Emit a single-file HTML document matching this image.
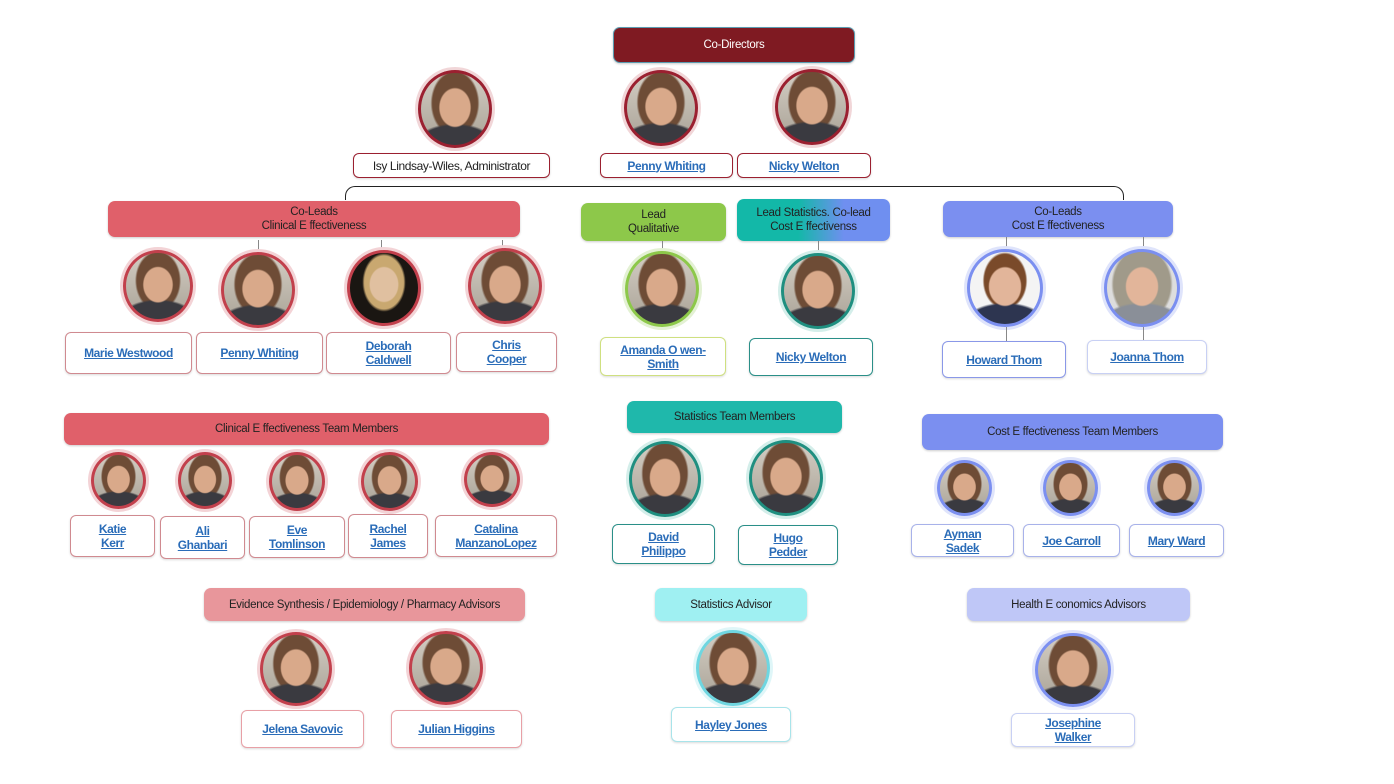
<!DOCTYPE html>
<html><head><meta charset="utf-8"><style>
body{margin:0;width:1394px;height:784px;background:#fff;position:relative;overflow:hidden;font-family:"Liberation Sans",sans-serif;}
div{position:absolute;box-sizing:border-box;}
.b{border-radius:7px;display:flex;align-items:center;justify-content:center;text-align:center;font-size:11.5px;line-height:14px;color:#222;letter-spacing:-0.3px;box-shadow:0 1px 2px rgba(0,0,0,.2);}
.l{background:#fff;border:1px solid #d08a90;border-radius:6px;display:flex;align-items:center;justify-content:center;text-align:center;font-size:12px;line-height:14px;font-weight:bold;color:#2a6cb8;text-decoration:underline;letter-spacing:-0.4px;box-shadow:0 1px 2px rgba(0,0,0,.15);}
.p{border-radius:50%;border:3px solid #b8323c;box-shadow:0 0 0 3px #f1d6d8;
background:radial-gradient(ellipse 24% 28% at 50% 48%,#d9a98a 0 92%,transparent 100%),radial-gradient(ellipse 60% 30% at 50% 100%,#3a3a40 0 90%,transparent 100%),radial-gradient(ellipse 36% 46% at 50% 42%,#6e4c36 0 92%,transparent 100%),linear-gradient(#d3cdc3,#a9a296);}
.r{border-color:#c2404c;box-shadow:0 0 0 3px #f3d3d6;}
.g{border-color:#8dc84a;box-shadow:0 0 0 3px #e3f1d3;}
.t{border-color:#1f8f80;box-shadow:0 0 0 3px #d4eeea;}
.v{border-color:#7b8ff0;box-shadow:0 0 0 3px #dfe4fb;}
.c{border-color:#6fd6e0;box-shadow:0 0 0 3px #dff6f8;}
.ln{background:#888;width:1px;}
</style></head><body>

<!-- bracket -->
<div style="left:345px;top:186px;width:779px;height:14px;border:1.5px solid #222;border-bottom:none;border-radius:10px 10px 0 0;"></div>

<div class="b" style="left:613px;top:27px;width:242px;height:36px;background:#7f1a22;color:#fff;border:1px solid #5a9bb0;">Co-Directors</div>
<div class="p" style="left:418px;top:70px;width:74px;height:78px;border-color:#9b2030;"></div>
<div class="p" style="left:624px;top:70px;width:74px;height:76px;border-color:#9b2030;"></div>
<div class="p" style="left:775px;top:69px;width:74px;height:76px;border-color:#9b2030;"></div>
<div class="l" style="left:353px;top:153px;width:197px;height:25px;color:#222;text-decoration:none;font-weight:normal;border-color:#9b2030;">Isy Lindsay-Wiles, Administrator</div>
<div class="l" style="left:600px;top:153px;width:133px;height:25px;border-color:#9b2030;">Penny Whiting</div>
<div class="l" style="left:737px;top:153px;width:134px;height:25px;border-color:#9b2030;">Nicky Welton</div>

<!-- Clinical leads -->
<div class="b" style="left:108px;top:201px;width:412px;height:36px;background:#e0606a;">Co-Leads<br>Clinical E ffectiveness</div>
<div class="ln" style="left:258px;top:240px;height:10px"></div><div class="ln" style="left:381px;top:240px;height:10px"></div><div class="ln" style="left:502px;top:240px;height:10px"></div>
<div class="p r" style="left:123px;top:250px;width:70px;height:72px;"></div>
<div class="p r" style="left:221px;top:252px;width:74px;height:76px;"></div>
<div class="p r" style="left:347px;top:250px;width:74px;height:76px;background:radial-gradient(ellipse 22% 26% at 50% 45%,#e0c0a0 0 92%,transparent 100%),radial-gradient(ellipse 32% 42% at 50% 42%,#c9a870 0 90%,transparent 100%),#1a1612;"></div>
<div class="p r" style="left:468px;top:248px;width:74px;height:76px;"></div>
<div class="l" style="left:65px;top:332px;width:127px;height:42px;">Marie Westwood</div>
<div class="l" style="left:196px;top:332px;width:127px;height:42px;">Penny Whiting</div>
<div class="l" style="left:326px;top:332px;width:125px;height:42px;">Deborah<br>Caldwell</div>
<div class="l" style="left:456px;top:332px;width:101px;height:40px;">Chris<br>Cooper</div>

<!-- Qualitative -->
<div class="b" style="left:581px;top:203px;width:145px;height:38px;background:#8dc84a;">Lead<br>Qualitative</div>
<div class="ln" style="left:662px;top:241px;height:10px"></div>
<div class="p g" style="left:625px;top:251px;width:74px;height:76px;"></div>
<div class="l" style="left:600px;top:337px;width:126px;height:39px;border-color:#cfe080;">Amanda O wen-<br>Smith</div>

<!-- Stats lead -->
<div class="b" style="left:737px;top:199px;width:153px;height:42px;background:linear-gradient(90deg,#13b8a8 40%,#6f8ff0 70%);">Lead Statistics. Co-lead<br>Cost E ffectivenss</div>
<div class="ln" style="left:818px;top:241px;height:12px"></div>
<div class="p t" style="left:781px;top:253px;width:74px;height:76px;"></div>
<div class="l" style="left:749px;top:338px;width:124px;height:38px;border-color:#2a8f88;">Nicky Welton</div>

<!-- Cost leads -->
<div class="b" style="left:943px;top:201px;width:230px;height:36px;background:#7b8ff0;">Co-Leads<br>Cost E ffectiveness</div>
<div class="ln" style="left:1006px;top:237px;height:12px"></div><div class="ln" style="left:1143px;top:237px;height:12px"></div>
<div class="p v" style="left:967px;top:249px;width:76px;height:78px;background:radial-gradient(ellipse 24% 28% at 50% 48%,#e2b59a 0 92%,transparent 100%),radial-gradient(ellipse 60% 30% at 50% 100%,#2d3550 0 90%,transparent 100%),radial-gradient(ellipse 32% 40% at 50% 40%,#7a4a2a 0 92%,transparent 100%),#f4f4f4;"></div>
<div class="p v" style="left:1104px;top:249px;width:76px;height:78px;background:radial-gradient(ellipse 24% 28% at 50% 48%,#e2b59a 0 92%,transparent 100%),radial-gradient(ellipse 60% 30% at 50% 100%,#8a8f98 0 90%,transparent 100%),radial-gradient(ellipse 44% 52% at 50% 45%,#a09a8a 0 92%,transparent 100%),#ddd;"></div>
<div class="ln" style="left:1006px;top:327px;height:14px"></div><div class="ln" style="left:1143px;top:327px;height:13px"></div>
<div class="l" style="left:942px;top:341px;width:124px;height:37px;border-color:#8a98e8;">Howard Thom</div>
<div class="l" style="left:1087px;top:340px;width:120px;height:34px;border-color:#c8d0f4;">Joanna Thom</div>

<!-- Clinical team -->
<div class="b" style="left:64px;top:413px;width:485px;height:32px;background:#e0606a;">Clinical E ffectiveness Team Members</div>
<div class="p r" style="left:91px;top:452px;width:55px;height:57px;"></div>
<div class="p r" style="left:178px;top:452px;width:54px;height:57px;"></div>
<div class="p r" style="left:269px;top:452px;width:56px;height:59px;"></div>
<div class="p r" style="left:361px;top:452px;width:57px;height:59px;"></div>
<div class="p r" style="left:464px;top:452px;width:56px;height:55px;"></div>
<div class="l" style="left:70px;top:515px;width:85px;height:42px;">Katie<br>Kerr</div>
<div class="l" style="left:160px;top:516px;width:85px;height:43px;">Ali<br>Ghanbari</div>
<div class="l" style="left:249px;top:516px;width:96px;height:42px;">Eve<br>Tomlinson</div>
<div class="l" style="left:348px;top:514px;width:80px;height:44px;">Rachel<br>James</div>
<div class="l" style="left:435px;top:515px;width:122px;height:42px;">Catalina<br>ManzanoLopez</div>

<!-- Stats team -->
<div class="b" style="left:627px;top:401px;width:215px;height:32px;background:#1fb8ab;">Statistics Team Members</div>
<div class="p t" style="left:629px;top:441px;width:72px;height:76px;"></div>
<div class="p t" style="left:749px;top:440px;width:74px;height:76px;"></div>
<div class="l" style="left:612px;top:524px;width:103px;height:40px;border-color:#2a8f88;">David<br>Philippo</div>
<div class="l" style="left:738px;top:525px;width:100px;height:40px;border-color:#2a8f88;">Hugo<br>Pedder</div>

<!-- Cost team -->
<div class="b" style="left:922px;top:414px;width:301px;height:36px;background:#7b8ff0;">Cost E ffectiveness Team Members</div>
<div class="p v" style="left:937px;top:460px;width:55px;height:56px;"></div>
<div class="p v" style="left:1043px;top:460px;width:55px;height:56px;"></div>
<div class="p v" style="left:1147px;top:460px;width:55px;height:56px;"></div>
<div class="l" style="left:911px;top:524px;width:103px;height:33px;border-color:#a8b2ea;">Ayman<br>Sadek</div>
<div class="l" style="left:1023px;top:524px;width:97px;height:33px;border-color:#a8b2ea;">Joe Carroll</div>
<div class="l" style="left:1129px;top:524px;width:95px;height:33px;border-color:#a8b2ea;">Mary Ward</div>

<!-- Advisors -->
<div class="b" style="left:204px;top:588px;width:321px;height:33px;background:#e8969b;">Evidence Synthesis / Epidemiology / Pharmacy Advisors</div>
<div class="p r" style="left:260px;top:632px;width:72px;height:74px;"></div>
<div class="p r" style="left:409px;top:631px;width:74px;height:74px;"></div>
<div class="l" style="left:241px;top:710px;width:123px;height:38px;border-color:#e8a0a6;">Jelena Savovic</div>
<div class="l" style="left:391px;top:710px;width:131px;height:38px;border-color:#e8a0a6;">Julian Higgins</div>

<div class="b" style="left:655px;top:588px;width:152px;height:33px;background:#9ff0f2;">Statistics Advisor</div>
<div class="p c" style="left:696px;top:630px;width:74px;height:76px;"></div>
<div class="l" style="left:671px;top:707px;width:120px;height:35px;border-color:#a8e4ea;">Hayley Jones</div>

<div class="b" style="left:967px;top:588px;width:223px;height:33px;background:#bfc7f7;">Health E conomics Advisors</div>
<div class="p v" style="left:1035px;top:633px;width:76px;height:74px;"></div>
<div class="l" style="left:1011px;top:713px;width:124px;height:34px;border-color:#c8d0f4;">Josephine<br>Walker</div>

</body></html>
